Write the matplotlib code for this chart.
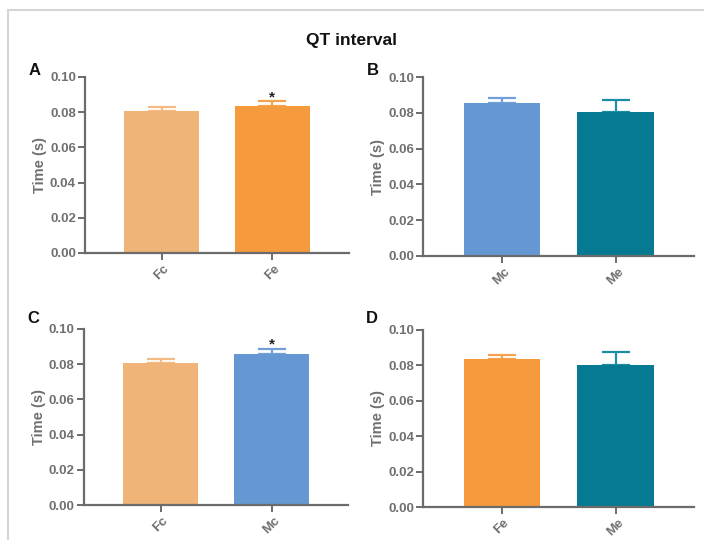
import matplotlib.pyplot as plt
from matplotlib.lines import Line2D

plt.rcParams['font.family'] = ['Liberation Sans', 'DejaVu Sans']

# group means and SEM (s)
groups = ['Fc', 'Fe', 'Mc', 'Me']
means = {'Fc': 0.0805, 'Fe': 0.0837, 'Mc': 0.0855, 'Me': 0.0804}
sems = {'Fc': 0.0024, 'Fe': 0.0024, 'Mc': 0.0031, 'Me': 0.0071}
bar_colors = {'Fc': '#F0B479', 'Fe': '#F59B3E', 'Mc': '#6598D2', 'Me': '#067A92'}
err_colors = {'Fc': '#F3BA83', 'Fe': '#F5A24E', 'Mc': '#6FA0D8', 'Me': '#1B8EA6'}

panels = ['A', 'B', 'C', 'D']
panel_groups = [['Fc', 'Fe'], ['Mc', 'Me'], ['Fc', 'Mc'], ['Fe', 'Me']]
panel_stars = [['', '*'], ['', ''], ['', '*'], ['', '']]
yticks = [0.00, 0.02, 0.04, 0.06, 0.08, 0.10]

rects = [
    [0.1207, 0.5315, 0.375, 0.326],
    [0.601, 0.526, 0.385, 0.331],
    [0.119, 0.0648, 0.376, 0.326],
    [0.601, 0.061, 0.385, 0.328],
]
letter_pos = [(0.040, 0.87), (0.521, 0.87), (0.039, 0.41), (0.519, 0.41)]

axcol = '#6B6B6B'
txtcol = '#707070'

fig = plt.figure(figsize=(7.04, 5.4), dpi=100)

# screenshot frame
fig.add_artist(Line2D([0.011, 1.0], [0.981, 0.981], color='#D5D5D5', lw=1.5))
fig.add_artist(Line2D([0.011, 0.011], [0.0, 0.981], color='#D5D5D5', lw=1.5))

fig.text(0.5, 0.925, 'QT interval', ha='center', va='center',
         fontsize=12.5, fontweight='bold', color='#111111')

for rect, letter, lpos, grp, stars in zip(rects, panels, letter_pos, panel_groups, panel_stars):
    ax = fig.add_axes(rect)
    x = range(len(grp))
    vals = [means[g] for g in grp]
    errs = [sems[g] for g in grp]
    ax.bar(x, vals, width=0.67, color=[bar_colors[g] for g in grp], zorder=2)
    for xi, g in zip(x, grp):
        ax.errorbar(xi, means[g], yerr=[[0], [sems[g]]], fmt='none',
                    ecolor=err_colors[g], elinewidth=1.6, capsize=10,
                    capthick=1.6, zorder=1)
    for xi, v, e, s in zip(x, vals, errs, stars):
        if s:
            ax.text(xi, v + e + 0.0024, s, ha='center', va='center',
                    fontsize=11, fontweight='bold', color='#222222')
    ax.set_xlim(-0.69, 1.69)
    ax.set_ylim(0, 0.10)
    ax.set_yticks(yticks)
    ax.set_yticklabels(['%.2f' % t for t in yticks])
    ax.set_xticks(list(x))
    ax.set_xticklabels(grp, rotation=45, ha='center', va='top')
    for sp in ['top', 'right']:
        ax.spines[sp].set_visible(False)
    for sp in ['left', 'bottom']:
        ax.spines[sp].set_color(axcol)
        ax.spines[sp].set_linewidth(1.6)
    ax.tick_params(axis='y', colors=axcol, width=1.4, length=5, pad=1.5,
                   labelcolor=txtcol, labelsize=9.5)
    ax.tick_params(axis='x', colors=axcol, width=1.4, length=5, pad=2,
                   labelcolor=txtcol, labelsize=9.5)
    for lab in ax.get_xticklabels() + ax.get_yticklabels():
        lab.set_fontweight('bold')
    ax.set_ylabel('Time (s)', fontsize=10.5, fontweight='bold', color=txtcol, labelpad=2)
    fig.text(lpos[0], lpos[1], letter, fontsize=12, fontweight='bold',
             color='#111111', ha='left', va='center')

fig.savefig('out.png', dpi=100)
